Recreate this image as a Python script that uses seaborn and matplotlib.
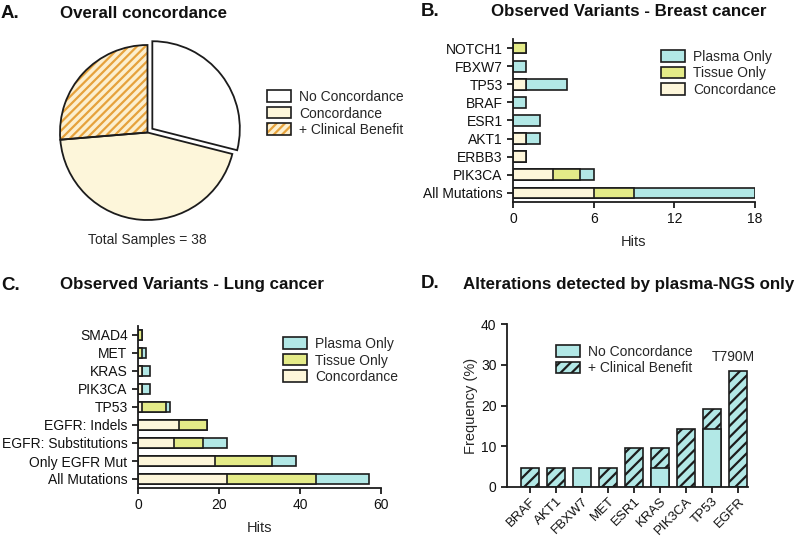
import matplotlib
matplotlib.use("Agg")
import matplotlib.pyplot as plt
import seaborn as sns
import pandas as pd
from matplotlib.patches import Patch

# ---- data ----
pie_labels = ["No Concordance", "Concordance", "+ Clinical Benefit"]
pie_counts = [11, 17, 10]
total_samples = 38

breast_genes = ["NOTCH1", "FBXW7", "TP53", "BRAF", "ESR1", "AKT1", "ERBB3", "PIK3CA", "All Mutations"]
breast_conc = [0, 0, 1, 0, 0, 1, 1, 3, 6]
breast_tissue = [1, 0, 0, 0, 0, 0, 0, 2, 3]
breast_plasma = [0, 1, 3, 1, 2, 1, 0, 1, 9]

lung_genes = ["SMAD4", "MET", "KRAS", "PIK3CA", "TP53", "EGFR: Indels",
              "EGFR: Substitutions", "Only EGFR Mut", "All Mutations"]
lung_conc = [0, 0, 1, 1, 1, 10, 9, 19, 22]
lung_tissue = [1, 1, 0, 0, 6, 7, 7, 14, 22]
lung_plasma = [0, 1, 2, 2, 1, 0, 6, 6, 13]

freq_genes = ["BRAF", "AKT1", "FBXW7", "MET", "ESR1", "KRAS", "PIK3CA", "TP53", "EGFR"]
freq_no_conc = [0, 0, 4.76, 0, 0, 4.76, 0, 14.29, 0]
freq_clinical = [4.76, 4.76, 0, 4.76, 9.52, 4.76, 14.29, 4.76, 28.57]

# ---- colours ----
C_CONC = "#FDF6DA"
C_TISSUE = "#E4EB88"
C_PLASMA = "#B2E8E6"
C_ORANGE = "#E6A23C"
C_HATCHBG = "#FCEFCF"
C_EDGE = "#1c1c1c"

sns.set_theme(style="ticks")
plt.rcParams["font.family"] = ["Liberation Sans", "DejaVu Sans"]
plt.rcParams["hatch.linewidth"] = 1.6
plt.rcParams["axes.linewidth"] = 1.3
plt.rcParams["xtick.major.width"] = 1.3
plt.rcParams["ytick.major.width"] = 1.3
plt.rcParams["xtick.major.size"] = 4
plt.rcParams["ytick.major.size"] = 4
plt.rcParams["axes.edgecolor"] = C_EDGE

W, H = 797, 539
fig = plt.figure(figsize=(W / 100, H / 100), dpi=100)


def px_axes(x0, y0, x1, y1):
    return fig.add_axes([x0 / W, 1 - y1 / H, (x1 - x0) / W, (y1 - y0) / H])


def fig_text(x, y, s, **kw):
    fig.text(x / W, 1 - y / H, s, **kw)


title_kw = dict(fontsize=12.2, fontweight="bold", va="center", color="#111111")
fig_text(1, 13, "A.", ha="left", fontsize=13.5, fontweight="bold", va="center", color="#111111")
fig_text(60, 13, "Overall concordance", ha="left", **title_kw)
fig_text(421, 11, "B.", ha="left", fontsize=13.5, fontweight="bold", va="center", color="#111111")
fig_text(491, 11, "Observed Variants - Breast cancer", ha="left", **title_kw)
fig_text(1, 285, "C.", ha="left", fontsize=13.5, fontweight="bold", va="center", color="#111111")
fig_text(60, 285, "Observed Variants - Lung cancer", ha="left", **title_kw)
fig_text(421, 284, "D.", ha="left", fontsize=13.5, fontweight="bold", va="center", color="#111111")
fig_text(463, 284, "Alterations detected by plasma-NGS only", ha="left", **title_kw)

# ---- A: pie ----
r = 87.5
axA = px_axes(147.5 - 1.1 * r, 132.5 - 1.1 * r, 147.5 + 1.1 * r, 132.5 + 1.1 * r)
explode = [0.07, 0, 0]
wedges, _ = axA.pie(pie_counts, colors=["white", C_CONC, C_HATCHBG], startangle=90,
                    counterclock=False, explode=explode,
                    wedgeprops=dict(linewidth=0, edgecolor=C_ORANGE))
wedges[2].set_hatch("////")
for w in wedges[:2]:
    w.set_edgecolor("none")
axA.pie(pie_counts, colors=["none"] * 3, startangle=90, counterclock=False, explode=explode,
        wedgeprops=dict(linewidth=1.3, edgecolor=C_EDGE, facecolor="none"))
axA.set_xlim(-1.1, 1.1)
axA.set_ylim(-1.1, 1.1)
axA.set_aspect("equal")
axA.axis("off")
fig_text(147, 240, f"Total Samples = {total_samples}", ha="center", va="center", fontsize=10)

leg_kw = dict(loc="upper left", frameon=False, fontsize=10, handlelength=1.7, handleheight=0.9,
              labelspacing=0.18, handletextpad=0.6, borderaxespad=0, borderpad=0)

pie_handles = [
    Patch(facecolor="white", edgecolor=C_EDGE, linewidth=1.2),
    Patch(facecolor=C_CONC, edgecolor=C_EDGE, linewidth=1.2),
    (Patch(facecolor=C_HATCHBG, edgecolor=C_ORANGE, hatch="////", linewidth=0),
     Patch(facecolor="none", edgecolor=C_EDGE, linewidth=1.2)),
]
fig.legend(pie_handles, pie_labels, bbox_to_anchor=(267 / W, 1 - 90 / H), **leg_kw)


# ---- B / C: stacked horizontal bars ----
def stacked_barh(ax, genes, conc, tissue, plasma, xmax, xticks):
    df = pd.DataFrame({"gene": genes, "conc": conc, "tissue": tissue, "plasma": plasma})
    df["c1"] = df["conc"]
    df["c2"] = df["conc"] + df["tissue"]
    df["c3"] = df["c2"] + df["plasma"]
    for col, colr in [("c3", C_PLASMA), ("c2", C_TISSUE), ("c1", C_CONC)]:
        sub = df[df[col] > 0]
        sns.barplot(data=sub, x=col, y="gene", order=genes, color=colr, orient="h",
                    width=0.6, edgecolor=C_EDGE, linewidth=1.2, saturation=1, ax=ax)
    ax.set_xlim(0, xmax)
    ax.set_ylim(len(genes) - 0.5, -0.5)
    ax.set_xticks(xticks)
    ax.set_xlabel("Hits", fontsize=10.5, labelpad=6)
    ax.set_ylabel("")
    ax.tick_params(labelsize=10, colors=C_EDGE, labelcolor="#111111")
    sns.despine(ax=ax)
    handles = [Patch(facecolor=C_PLASMA, edgecolor=C_EDGE, linewidth=1.2),
               Patch(facecolor=C_TISSUE, edgecolor=C_EDGE, linewidth=1.2),
               Patch(facecolor=C_CONC, edgecolor=C_EDGE, linewidth=1.2)]
    return handles


axB = px_axes(513, 39, 755, 202)
hB = stacked_barh(axB, breast_genes, breast_conc, breast_tissue, breast_plasma, 18, [0, 6, 12, 18])
fig.legend(hB, ["Plasma Only", "Tissue Only", "Concordance"],
           bbox_to_anchor=(661 / W, 1 - 50 / H), **leg_kw)

axC = px_axes(138, 326, 381, 488)
hC = stacked_barh(axC, lung_genes, lung_conc, lung_tissue, lung_plasma, 60, [0, 20, 40, 60])
fig.legend(hC, ["Plasma Only", "Tissue Only", "Concordance"],
           bbox_to_anchor=(283 / W, 1 - 337 / H), **leg_kw)

# ---- D: frequency bars ----
axD = px_axes(507, 324, 748, 487)
dfD = pd.DataFrame({"gene": freq_genes,
                    "total": [a + b for a, b in zip(freq_no_conc, freq_clinical)],
                    "noconc": freq_no_conc, "clin": freq_clinical})
sub = dfD[dfD["clin"] > 0]
sns.barplot(data=sub, x="gene", y="total", order=freq_genes, color=C_PLASMA, width=0.7,
            edgecolor=C_EDGE, linewidth=1.2, hatch="///", saturation=1, ax=axD)
sub = dfD[dfD["noconc"] > 0]
sns.barplot(data=sub, x="gene", y="noconc", order=freq_genes, color=C_PLASMA, width=0.7,
            edgecolor=C_EDGE, linewidth=1.2, saturation=1, ax=axD)
axD.set_xlim(-0.88, 8.38)
axD.set_ylim(0, 40)
axD.set_yticks([0, 10, 20, 30, 40])
axD.set_xlabel("")
axD.set_ylabel("Frequency (%)", fontsize=10.5, labelpad=2)
axD.tick_params(labelsize=10, colors=C_EDGE, labelcolor="#111111")
axD.tick_params(axis="x", labelsize=9.5, pad=2)
plt.setp(axD.get_xticklabels(), rotation=45, ha="right", rotation_mode="anchor")
sns.despine(ax=axD)
axD.text(7.8, 31.9, "T790M", ha="center", va="center", fontsize=10)
hD = [Patch(facecolor=C_PLASMA, edgecolor=C_EDGE, linewidth=1.2),
      Patch(facecolor=C_PLASMA, edgecolor=C_EDGE, linewidth=1.2, hatch="///")]
fig.legend(hD, ["No Concordance", "+ Clinical Benefit"],
           bbox_to_anchor=(556 / W, 1 - 345 / H), **leg_kw)

fig.savefig("out.png", dpi=100)
